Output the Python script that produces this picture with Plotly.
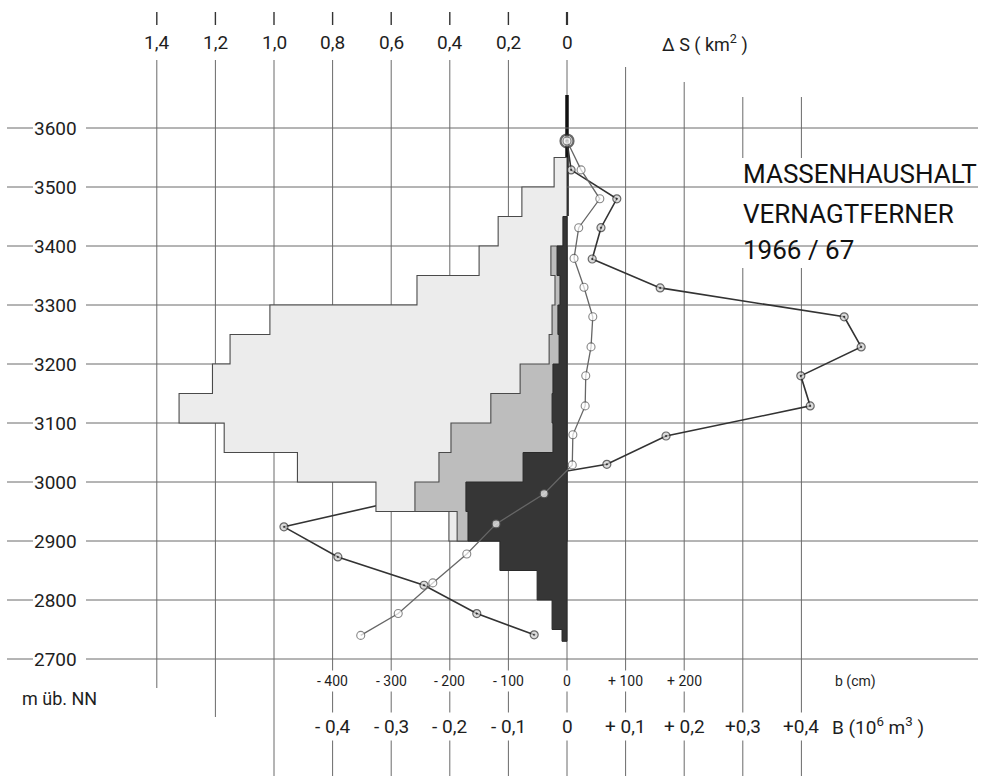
import plotly.graph_objects as go

# ---------------- data ----------------
# altitude band edges (m, top -> bottom) and areas per band (km^2)
light_edges = [3550, 3500, 3450, 3400, 3350, 3300, 3250, 3200, 3150, 3100, 3050, 3000, 2950, 2900]
light_area = [0.044, 0.154, 0.235, 0.30, 0.512, 1.014, 1.15, 1.21, 1.324, 1.17, 0.92, 0.652, 0.403]

mid_edges = [3400, 3350, 3300, 3250, 3200, 3150, 3100, 3050, 3000, 2950, 2900]
mid_area = [0.055, 0.041, 0.051, 0.061, 0.16, 0.26, 0.396, 0.437, 0.519, 0.375]

dark_edges = [3450, 3400, 3350, 3300, 3250, 3200, 3150, 3100, 3050, 3000, 2950, 2900, 2850, 2800, 2750, 2730]
dark_area = [0.014, 0.034, 0.024, 0.031, 0.027, 0.048, 0.051, 0.048, 0.150, 0.345, 0.338, 0.229, 0.102, 0.051, 0.017]

# specific balance b (cm)
b_alt = [3578, 3529, 3480, 3431, 3378, 3329, 3280, 3229, 3180, 3129, 3078, 3030, 2976, 2924, 2873, 2825, 2777, 2741]
b_cm = [0, 7, 85, 58, 43, 159, 473, 502, 399, 415, 169, 68, -254, -483, -391, -244, -154, -56]

# volume balance B (10^6 m^3)
B_alt = [3578, 3529, 3480, 3431, 3379, 3330, 3280, 3229, 3180, 3129, 3080, 3029, 2980, 2929, 2878, 2829, 2777, 2740]
B_vol = [0, 0.024, 0.056, 0.020, 0.012, 0.029, 0.044, 0.041, 0.032, 0.031, 0.010, 0.009, -0.039, -0.121, -0.171, -0.229, -0.288, -0.352]

# ticks
alt_ticks = [3600, 3500, 3400, 3300, 3200, 3100, 3000, 2900, 2800, 2700]
dS_ticks = [1.4, 1.2, 1.0, 0.8, 0.6, 0.4, 0.2, 0.0]
dS_labels = ["1,4", "1,2", "1,0", "0,8", "0,6", "0,4", "0,2", "0"]
b_ticks = [-400, -300, -200, -100, 0, 100, 200]
b_labels = ["- 400", "- 300", "- 200", "- 100", "0", "+ 100", "+ 200"]
B_ticks = [-0.4, -0.3, -0.2, -0.1, 0.0, 0.1, 0.2, 0.3, 0.4]
B_labels = ["- 0,4", "- 0,3", "- 0,2", "- 0,1", "0", "+ 0,1", "+ 0,2", "+0,3", "+0,4"]
grid_b = [-700, -600, -500, -400, -300, -200, -100, 0, 100, 200, 300, 400]

# ---------------- geometry helpers (layout only) ----------------
W, H = 996, 776
X0, PXB = 567, 0.586          # pixel of zero, px per cm of b
Y3600, PXM = 128, 0.59        # pixel of 3600 m, px per metre
xr = [-X0 / PXB, (W - X0) / PXB]
yr = [3600 - (H - Y3600) / PXM, 3600 + Y3600 / PXM]


def bx(p):
    return (p - X0) / PXB


def py(p):
    return 1 - p / H


def step_poly(edges, widths):
    xs, ys = [0], [edges[0]]
    for i, w in enumerate(widths):
        xs += [w, w]
        ys += [edges[i], edges[i + 1]]
    xs.append(0)
    ys.append(edges[-1])
    xs.append(0)
    ys.append(edges[0])
    return xs, ys


FONT = "Roboto, 'Liberation Sans', sans-serif"
INK = "#1e1e1e"
GRID = "#6a6a6a"

fig = go.Figure()

lx, ly = step_poly(light_edges, light_area)
fig.add_trace(go.Scatter(x=lx, y=ly, xaxis="x2", yaxis="y", mode="lines", fill="toself",
                         fillcolor="#ececec", line=dict(color="#4a4a4a", width=1.1),
                         hoverinfo="skip", showlegend=False))
mx, my = step_poly(mid_edges, mid_area)
fig.add_trace(go.Scatter(x=mx, y=my, xaxis="x2", yaxis="y", mode="lines", fill="toself",
                         fillcolor="#bdbdbd", line=dict(color="#4a4a4a", width=1.1),
                         hoverinfo="skip", showlegend=False))
dx, dy = step_poly(dark_edges, dark_area)
fig.add_trace(go.Scatter(x=dx, y=dy, xaxis="x2", yaxis="y", mode="lines", fill="toself",
                         fillcolor="#363636", line=dict(color="#2a2a2a", width=1),
                         hoverinfo="skip", showlegend=False))

sizes_B = [8] * len(B_vol)
fig.add_trace(go.Scatter(x=B_vol, y=B_alt, xaxis="x3", yaxis="y", mode="lines+markers",
                         line=dict(color="#666666", width=1.3),
                         marker=dict(symbol="circle", size=sizes_B, color="white",
                                     line=dict(color="#555555", width=1.1)),
                         showlegend=False))
sizes_b = [13] + [8] * (len(b_cm) - 1)
lw_b = [2.2] + [1.2] * (len(b_cm) - 1)
fig.add_trace(go.Scatter(x=b_cm, y=b_alt, xaxis="x", yaxis="y", mode="lines+markers",
                         line=dict(color="#333333", width=1.6),
                         marker=dict(symbol="circle-dot", size=sizes_b, color="#d0d0d0",
                                     line=dict(color="#2a2a2a", width=lw_b)),
                         showlegend=False))

shapes = []
# horizontal grid + tick dashes
for h in alt_ticks:
    shapes.append(dict(type="line", xref="x", yref="y", x0=bx(86), x1=bx(978), y0=h, y1=h,
                       line=dict(color=GRID, width=1), layer="below"))
    shapes.append(dict(type="line", xref="x", yref="y", x0=bx(7), x1=bx(33), y0=h, y1=h,
                       line=dict(color=GRID, width=1), layer="below"))
# vertical grid
top_px = {100: 67, 200: 82, 300: 97, 400: 97}
bot_px = {-700: 688, -600: 717}
for g in grid_b:
    shapes.append(dict(type="line", xref="x", yref="paper", x0=g, x1=g,
                       y0=py(top_px.get(g, 60)), y1=py(bot_px.get(g, H)),
                       line=dict(color=GRID, width=1), layer="below"))
    if g <= 0:
        shapes.append(dict(type="line", xref="x", yref="paper", x0=g, x1=g,
                           y0=py(12), y1=py(25),
                           line=dict(color="#333333", width=1.4 if g < 0 else 2.2), layer="below"))
# white panel behind the title
shapes.append(dict(type="rect", xref="x", yref="paper", x0=bx(733), x1=bx(985), y0=py(158), y1=py(228),
                   fillcolor="white", line=dict(width=0), layer="below"))
shapes.append(dict(type="rect", xref="x", yref="paper", x0=bx(733), x1=bx(870), y0=py(228), y1=py(268),
                   fillcolor="white", line=dict(width=0), layer="below"))
# thick zero line at the top
shapes.append(dict(type="line", xref="x", yref="paper", x0=0, x1=0, y0=py(95), y1=py(216),
                   line=dict(color="#111111", width=3.5), layer="below"))

ann = []
for h in alt_ticks:
    ann.append(dict(x=bx(79), y=h, xref="x", yref="y", text=str(h), showarrow=False,
                    xanchor="right", yanchor="middle", font=dict(size=19, color=INK, family=FONT)))
for v, t in zip(dS_ticks, dS_labels):
    ann.append(dict(x=v, y=py(42), xref="x2", yref="paper", text=t, showarrow=False,
                    xanchor="center", yanchor="middle", font=dict(size=19, color=INK, family=FONT)))
ann.append(dict(x=bx(660), y=py(43), xref="x", yref="paper", text="Δ S ( km<sup>2</sup> )",
                showarrow=False, xanchor="left", yanchor="middle", font=dict(size=18, color=INK, family=FONT)))
for v, t in zip(b_ticks, b_labels):
    ann.append(dict(x=v, y=py(681), xref="x", yref="paper", text=t, showarrow=False,
                    xanchor="center", yanchor="middle", bgcolor="white", borderpad=2,
                    font=dict(size=14, color=INK, family=FONT)))
ann.append(dict(x=bx(833), y=py(681), xref="x", yref="paper", text="b (cm)", showarrow=False,
                xanchor="left", yanchor="middle", font=dict(size=14, color=INK, family=FONT)))
for v, t in zip(B_ticks, B_labels):
    ann.append(dict(x=v, y=py(726), xref="x3", yref="paper", text=t, showarrow=False,
                    xanchor="center", yanchor="middle", bgcolor="white", borderpad=2,
                    font=dict(size=19, color=INK, family=FONT)))
ann.append(dict(x=bx(830), y=py(726), xref="x", yref="paper", text="B (10<sup>6</sup> m<sup>3</sup> )",
                showarrow=False, xanchor="left", yanchor="middle", font=dict(size=19, color=INK, family=FONT)))
ann.append(dict(x=bx(20), y=py(698), xref="x", yref="paper", text="m üb. NN", showarrow=False,
                xanchor="left", yanchor="middle", font=dict(size=18, color=INK, family=FONT)))
for txt, yy in [("MASSENHAUSHALT", 174), ("VERNAGTFERNER", 214), ("1966 / 67", 250)]:
    ann.append(dict(x=bx(741), y=py(yy), xref="x", yref="paper", text=txt, showarrow=False,
                    xanchor="left", yanchor="middle", font=dict(size=26, color="#111111", family=FONT)))

fig.update_layout(
    width=W, height=H, autosize=False,
    margin=dict(l=0, r=0, t=0, b=0),
    paper_bgcolor="white", plot_bgcolor="white",
    xaxis=dict(range=xr, visible=False, showgrid=False, zeroline=False),
    xaxis2=dict(range=[-xr[0] / 500, -xr[1] / 500], overlaying="x", visible=False,
                showgrid=False, zeroline=False),
    xaxis3=dict(range=[xr[0] / 1000, xr[1] / 1000], overlaying="x", visible=False,
                showgrid=False, zeroline=False),
    yaxis=dict(range=yr, visible=False, showgrid=False, zeroline=False),
    shapes=shapes, annotations=ann, showlegend=False,
)

fig.write_html("out.html")
